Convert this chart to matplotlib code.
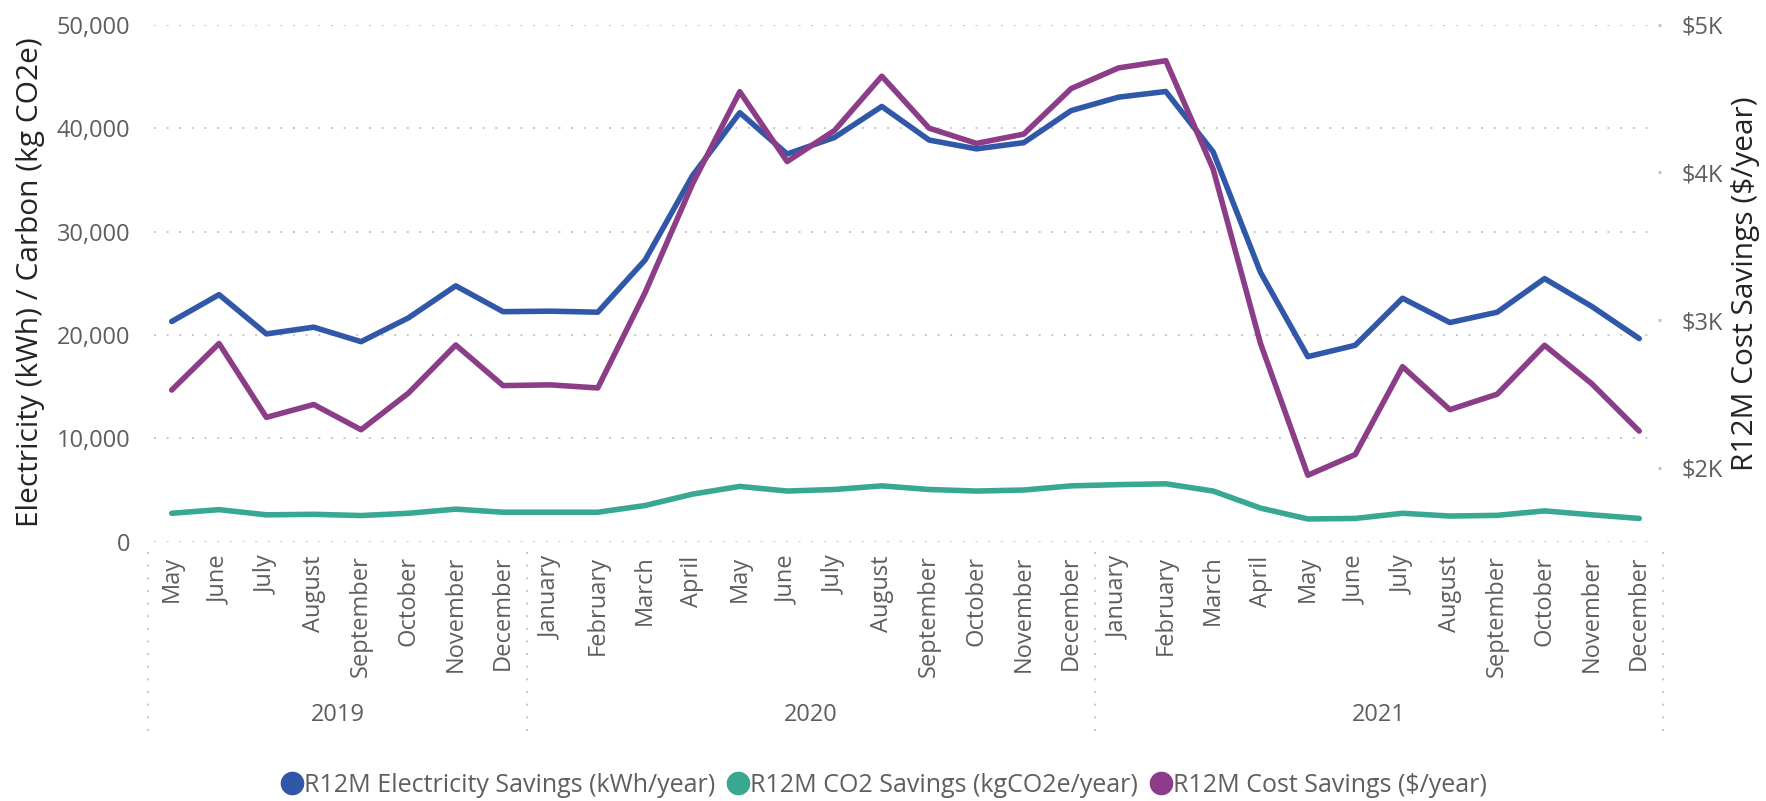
import matplotlib
matplotlib.use("Agg")
import matplotlib.pyplot as plt
import matplotlib.transforms as mtransforms
from matplotlib.lines import Line2D
from matplotlib.ticker import FuncFormatter, FixedLocator

plt.rcParams['font.family'] = ['Open Sans', 'DejaVu Sans']

# ---------------- data ----------------
months = ["May", "June", "July", "August", "September", "October", "November", "December",
          "January", "February", "March", "April", "May", "June", "July", "August",
          "September", "October", "November", "December",
          "January", "February", "March", "April", "May", "June", "July", "August",
          "September", "October", "November", "December"]
years = [2019] * 8 + [2020] * 12 + [2021] * 12

electricity_kwh = [21300, 23900, 20100, 20750, 19350, 21650, 24750, 22250,
                   22300, 22200, 27250, 35400, 41500, 37500, 39100, 42100,
                   38850, 38000, 38600, 41700, 43000, 43550, 37700, 26050,
                   17900, 19000, 23550, 21200, 22200, 25450, 22750, 19650]

co2_kg = [2750, 3100, 2600, 2650, 2530, 2750, 3150, 2850,
          2850, 2850, 3500, 4600, 5350, 4900, 5050, 5400,
          5050, 4900, 5000, 5400, 5520, 5600, 4900, 3250,
          2200, 2250, 2750, 2480, 2550, 2980, 2600, 2250]

cost_usd = [2527, 2842, 2342, 2429, 2258, 2506, 2832, 2557,
            2562, 2541, 3187, 3922, 4547, 4074, 4284, 4652,
            4300, 4197, 4260, 4568, 4708, 4757, 4022, 2842,
            1950, 2090, 2685, 2394, 2499, 2830, 2569, 2249]

left_ticks = [0, 10000, 20000, 30000, 40000, 50000]
right_ticks = [2000, 3000, 4000, 5000]

series_names = ["R12M Electricity Savings (kWh/year)",
                "R12M CO2 Savings (kgCO2e/year)",
                "R12M Cost Savings ($/year)"]
colors = ["#3158A8", "#38A892", "#8B3D88"]

# ---------------- figure ----------------
W, H = 1766, 801
fig = plt.figure(figsize=(W / 100, H / 100), dpi=100)
fig.patch.set_facecolor("white")

ax = fig.add_axes([154 / W, 1 - 541.7 / H, (1657.7 - 154) / W, (541.7 - 24.8) / H])
ax2 = ax.twinx()

x = list(range(len(months)))
TICK_COLOR = "#605E5C"
TITLE_COLOR = "#252423"
GRID_COLOR = "#C8C6C4"
FS = 17

lw = 4.0
ax.plot(x, electricity_kwh, color=colors[0], lw=lw, solid_capstyle="round",
        solid_joinstyle="round", zorder=3)
ax.plot(x, co2_kg, color=colors[1], lw=lw, solid_capstyle="round",
        solid_joinstyle="round", zorder=3)
ax2.plot(x, cost_usd, color=colors[2], lw=lw, solid_capstyle="round",
         solid_joinstyle="round", zorder=3)

ax.set_xlim(-0.374, len(months) - 1 + 0.39)
ax.set_ylim(left_ticks[0], left_ticks[-1])
ax2.set_ylim(1500, 5000)

ax.yaxis.set_major_locator(FixedLocator(left_ticks))
ax.yaxis.set_major_formatter(FuncFormatter(lambda v, p: f"{int(v):,}"))
ax2.yaxis.set_major_locator(FixedLocator(right_ticks))
ax2.yaxis.set_major_formatter(FuncFormatter(lambda v, p: f"${int(v / 1000)}K"))

ax.set_xticks(x)
ax.set_xticklabels(months, rotation=90, fontsize=FS, color=TICK_COLOR, va="top")
ax.tick_params(axis="x", length=0, pad=10)
ax.tick_params(axis="y", length=0, pad=17, labelsize=FS, labelcolor=TICK_COLOR)
ax2.tick_params(axis="y", length=2, width=2.2, color=GRID_COLOR, pad=15,
                labelsize=FS, labelcolor=TICK_COLOR)

for a in (ax, ax2):
    for s in a.spines.values():
        s.set_visible(False)

ax.yaxis.grid(True, color=GRID_COLOR, linestyle=(0, (1, 5.5)), linewidth=1.4)
ax.set_axisbelow(True)

# year group separators and labels under the axis
trans = mtransforms.blended_transform_factory(ax.transData, fig.transFigure)
groups = []
for i, yv in enumerate(years):
    if not groups or groups[-1][0] != yv:
        groups.append([yv, i, i])
    else:
        groups[-1][2] = i
sep_top = 1 - 552 / H
sep_bot = 1 - 737 / H
bounds = [groups[0][1] - 0.5] + [g[2] + 0.5 for g in groups]
for b in bounds:
    ax.add_line(Line2D([b, b], [sep_top, sep_bot], transform=trans, clip_on=False,
                       color=GRID_COLOR, linestyle=(0, (1, 5.5)), linewidth=1.4))
for yv, i0, i1 in groups:
    ax.text((i0 + i1) / 2, 1 - 715 / H, str(yv), transform=trans, ha="center",
            va="center", fontsize=FS, color=TICK_COLOR)

# axis titles
fig.text(31 / W, 1 - 282 / H, "Electricity (kWh) / Carbon (kg CO2e)", rotation=90,
         ha="center", va="center", fontsize=21.5, color=TITLE_COLOR)
fig.text(1745 / W, 1 - 284 / H, "R12M Cost Savings ($/year)", rotation=90,
         ha="center", va="center", fontsize=21.5, color=TITLE_COLOR)

# legend
handles = [Line2D([], [], marker="o", linestyle="none", markersize=16,
                  markerfacecolor=c, markeredgecolor=c) for c in colors]
fig.legend(handles, series_names, loc="center", bbox_to_anchor=(0.5, 1 - 785 / H),
           ncol=3, frameon=False, fontsize=18, labelcolor=TICK_COLOR,
           handletextpad=0.0, columnspacing=0.4, handlelength=1.0, borderaxespad=0)

fig.savefig("out.png", dpi=100, facecolor="white")
